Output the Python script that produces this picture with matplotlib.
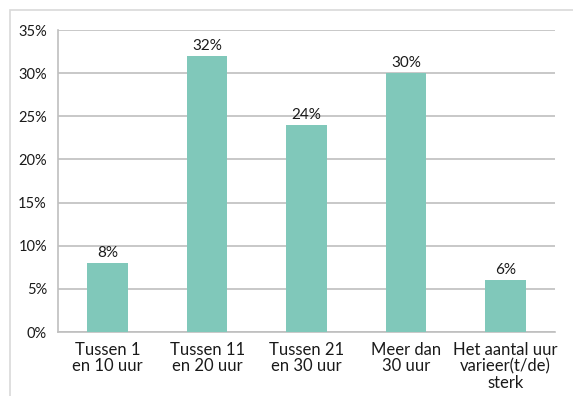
import matplotlib.pyplot as plt
from matplotlib.patches import Rectangle
import numpy as np

# data
categories = ['Tussen 1\nen 10 uur', 'Tussen 11\nen 20 uur', 'Tussen 21\nen 30 uur',
              'Meer dan\n30 uur', 'Het aantal uur\nvarieer(t/de)\nsterk']
values = [8, 32, 24, 30, 6]
yticks = [0, 5, 10, 15, 20, 25, 30, 35]

plt.rcParams['font.family'] = ['Lato', 'DejaVu Sans']

fig = plt.figure(figsize=(5.73, 3.96), dpi=100)
ax = fig.add_axes([58 / 573, 1 - 332 / 396, (555 - 58) / 573, (332 - 30) / 396])

# outer frame (top and left edges only)
fig.patches.append(Rectangle((10 / 573, -0.1), 1.2, 1.1 - 10 / 396,
                             transform=fig.transFigure, fill=False,
                             edgecolor='#d9d9d9', linewidth=1.2))

x = np.arange(len(categories))
bars = ax.bar(x, values, width=0.41, color='#80c8ba', zorder=3)

for b, v in zip(bars, values):
    ax.text(b.get_x() + b.get_width() / 2, v + 0.35, f'{v}%',
            ha='center', va='bottom', fontsize=11, color='#1a1a1a')

ax.set_xlim(-0.5, len(categories) - 0.5)
ax.set_ylim(0, 35)
ax.set_yticks(yticks)
ax.set_yticklabels([f'{t}%' for t in yticks], fontsize=10.5, color='#1a1a1a')
ax.set_xticks(x)
ax.set_xticklabels(categories, fontsize=12, color='#1a1a1a', linespacing=1.05)
ax.tick_params(axis='y', length=0, pad=8)
ax.tick_params(axis='x', length=0, pad=7)

ax.yaxis.grid(True, color='#bfbfbf', linewidth=1.2, zorder=0)
for s in ['top', 'right']:
    ax.spines[s].set_visible(False)
for s in ['left', 'bottom']:
    ax.spines[s].set_color('#bfbfbf')
    ax.spines[s].set_linewidth(1.2)

fig.savefig('out.png', dpi=100)
